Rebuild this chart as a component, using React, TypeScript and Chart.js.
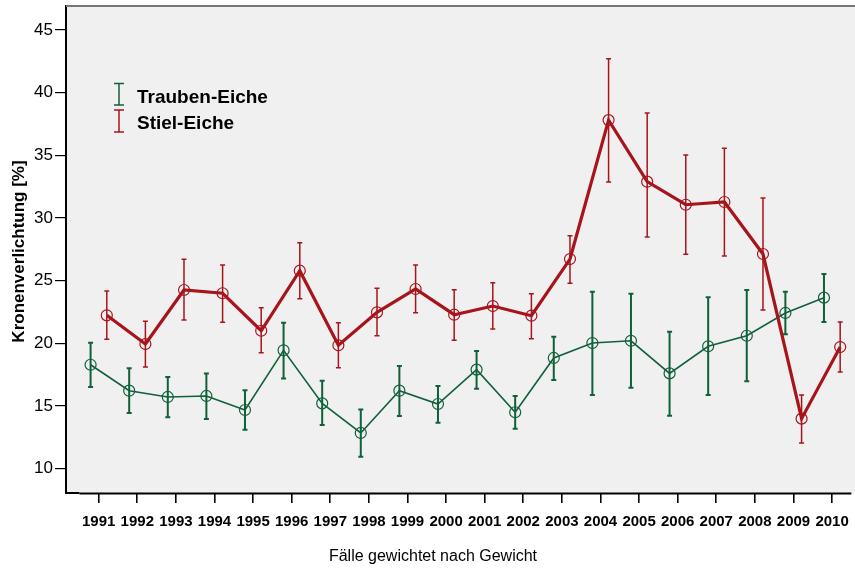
import React, { useEffect, useRef } from "react";
import { Chart, registerables } from "chart.js";

Chart.register(...registerables);

const years = [1991, 1992, 1993, 1994, 1995, 1996, 1997, 1998, 1999, 2000, 2001, 2002, 2003, 2004, 2005, 2006, 2007, 2008, 2009, 2010];

const traubenMean = [18.29, 16.22, 15.72, 15.8, 14.68, 19.44, 15.21, 12.85, 16.22, 15.16, 17.9, 14.5, 18.83, 20.02, 20.2, 17.6, 19.76, 20.6, 22.42, 23.64];
const traubenHigh = [20.05, 18.0, 17.31, 17.6, 16.25, 21.64, 17.02, 14.71, 18.19, 16.6, 19.38, 15.8, 20.53, 24.11, 23.96, 20.93, 23.67, 24.25, 24.11, 25.53];
const traubenLow = [16.51, 14.44, 14.1, 13.96, 13.11, 17.2, 13.48, 10.96, 14.2, 13.67, 16.38, 13.19, 17.07, 15.88, 16.46, 14.23, 15.88, 16.97, 20.72, 21.7];

const stielMean = [22.23, 19.94, 24.25, 23.99, 21.0, 25.79, 19.84, 22.47, 24.33, 22.28, 22.97, 22.2, 26.72, 37.8, 32.89, 31.05, 31.27, 27.12, 13.99, 19.7];
const stielHigh = [24.17, 21.75, 26.7, 26.24, 22.84, 28.02, 21.64, 24.38, 26.24, 24.27, 24.83, 23.96, 28.58, 42.7, 38.36, 35.02, 35.55, 31.59, 15.88, 21.7];
const stielLow = [20.32, 18.11, 21.86, 21.67, 19.25, 23.56, 18.05, 20.6, 22.44, 20.24, 21.14, 20.37, 24.78, 32.86, 28.48, 27.1, 26.96, 22.66, 12.05, 17.71];

const yTicks = [10, 15, 20, 25, 30, 35, 40, 45];

const seriesNames = ["Trauben-Eiche", "Stiel-Eiche"];
const yTitle = "Kronenverlichtung [%]";
const footer = "Fälle gewichtet nach Gewicht";

const GREEN = "#10603a";
const RED = "#a8141c";
const OFFSET = 0.21;
const FONT = "'Liberation Sans', Arial, sans-serif";

export default function App() {
  const ref = useRef<HTMLCanvasElement | null>(null);

  useEffect(() => {
    if (!ref.current) return;

    const series = [
      { mean: traubenMean, low: traubenLow, high: traubenHigh, color: GREEN, off: -OFFSET, bw: 2 },
      { mean: stielMean, low: stielLow, high: stielHigh, color: RED, off: OFFSET, bw: 1.5 },
    ];

    const deco = {
      id: "deco",
      beforeDraw(chart: any) {
        const { ctx, chartArea } = chart;
        ctx.save();
        ctx.fillStyle = "#f0f0f0";
        ctx.fillRect(chartArea.left, chartArea.top, chartArea.right - chartArea.left, chartArea.bottom - chartArea.top);
        ctx.restore();
      },
      afterDatasetsDraw(chart: any) {
        const { ctx } = chart;
        const xs = chart.scales.x;
        const ys = chart.scales.y;
        ctx.save();
        series.forEach((s) => {
          ctx.strokeStyle = s.color;
          ctx.lineWidth = s.bw;
          years.forEach((yr, i) => {
            const x = xs.getPixelForValue(yr + s.off);
            const y1 = ys.getPixelForValue(s.high[i]);
            const y2 = ys.getPixelForValue(s.low[i]);
            ctx.beginPath();
            ctx.moveTo(x, y1);
            ctx.lineTo(x, y2);
            ctx.moveTo(x - 2.5, y1);
            ctx.lineTo(x + 2.5, y1);
            ctx.moveTo(x - 2.5, y2);
            ctx.lineTo(x + 2.5, y2);
            ctx.stroke();
          });
        });
        ctx.restore();
      },
      afterDraw(chart: any) {
        const { ctx, chartArea } = chart;
        const xs = chart.scales.x;
        ctx.save();
        // top frame
        ctx.strokeStyle = "#777777";
        ctx.lineWidth = 2;
        ctx.beginPath();
        ctx.moveTo(chartArea.left, chartArea.top);
        ctx.lineTo(chartArea.right, chartArea.top);
        ctx.stroke();
        // bottom frame and axis line
        ctx.strokeStyle = "#000000";
        ctx.lineWidth = 2;
        ctx.beginPath();
        ctx.moveTo(chartArea.left - 1, chartArea.bottom);
        ctx.lineTo(xs.getPixelForValue(years[0] - 0.5), chartArea.bottom);
        ctx.stroke();
        ctx.beginPath();
        ctx.moveTo(xs.getPixelForValue(years[0] - 0.5), chartArea.bottom + 0.5);
        ctx.lineTo(xs.getPixelForValue(years[years.length - 1] + 0.5), chartArea.bottom + 0.5);
        ctx.stroke();

        // y title
        ctx.fillStyle = "#000";
        ctx.font = `bold 17px ${FONT}`;
        ctx.textAlign = "center";
        ctx.textBaseline = "middle";
        ctx.translate(19.5, 251.5);
        ctx.rotate(-Math.PI / 2);
        ctx.fillText(yTitle, 0, 0);
        ctx.restore();

        ctx.save();
        // footer
        ctx.fillStyle = "#000";
        ctx.font = `16px ${FONT}`;
        ctx.textAlign = "center";
        ctx.textBaseline = "middle";
        ctx.fillText(footer, 433, 557);

        // legend
        const leg = [
          { name: seriesNames[0], color: GREEN, top: 83.5, bottom: 105, ty: 98 },
          { name: seriesNames[1], color: RED, top: 110, bottom: 132, ty: 124 },
        ];
        leg.forEach((l) => {
          ctx.strokeStyle = l.color;
          ctx.lineWidth = 1.5;
          ctx.beginPath();
          ctx.moveTo(119, l.top);
          ctx.lineTo(119, l.bottom);
          ctx.moveTo(114, l.top);
          ctx.lineTo(124, l.top);
          ctx.moveTo(114, l.bottom);
          ctx.lineTo(124, l.bottom);
          ctx.stroke();
          ctx.fillStyle = "#000";
          ctx.font = `bold 19px ${FONT}`;
          ctx.textAlign = "left";
          ctx.textBaseline = "middle";
          ctx.fillText(l.name, 137, l.ty);
        });
        ctx.restore();
      },
    };

    const chart = new Chart(ref.current, {
      type: "scatter",
      data: {
        datasets: [
          {
            label: seriesNames[0],
            data: years.map((yr, i) => ({ x: yr - OFFSET, y: traubenMean[i] })),
            showLine: true,
            borderColor: GREEN,
            borderWidth: 1.6,
            pointRadius: 5.5,
            pointBorderWidth: 1.2,
            pointBorderColor: GREEN,
            pointBackgroundColor: "rgba(0,0,0,0)",
            order: 2,
          },
          {
            label: seriesNames[1],
            data: years.map((yr, i) => ({ x: yr + OFFSET, y: stielMean[i] })),
            showLine: true,
            borderColor: RED,
            borderWidth: 3.2,
            pointRadius: 5.5,
            pointBorderWidth: 1.2,
            pointBorderColor: RED,
            pointBackgroundColor: "rgba(0,0,0,0)",
            order: 1,
          },
        ],
      },
      options: {
        animation: false,
        responsive: false,
        layout: { autoPadding: false, padding: { top: 6, left: 0, right: 0, bottom: 0 } },
        plugins: {
          legend: { display: false },
          tooltip: { enabled: false },
          title: { display: false },
        },
        scales: {
          x: {
            type: "linear",
            min: 1990.153,
            max: 2010.594,
            afterBuildTicks: (scale: any) => {
              scale.ticks = years.map((v) => ({ value: v }));
            },
            afterFit: (scale: any) => {
              scale.height = 76;
              scale.paddingLeft = 0;
              scale.paddingRight = 0;
              scale.paddingTop = 0;
              scale.paddingBottom = 0;
            },
            border: { display: false },
            grid: {
              drawOnChartArea: false,
              drawTicks: true,
              tickLength: 10,
              color: "#000",
              lineWidth: 1.6,
            },
            ticks: {
              autoSkip: false,
              maxRotation: 0,
              minRotation: 0,
              padding: 10,
              color: "#000",
              font: { family: FONT, size: 15, weight: "bold" },
              callback: (v: any) => String(v),
            },
          },
          y: {
            type: "linear",
            min: 8.06,
            max: 46.9,
            afterBuildTicks: (scale: any) => {
              scale.ticks = yTicks.map((v) => ({ value: v }));
            },
            afterFit: (scale: any) => {
              scale.width = 66;
              scale.paddingLeft = 0;
              scale.paddingRight = 0;
              scale.paddingTop = 0;
              scale.paddingBottom = 0;
            },
            border: { display: true, color: "#000", width: 2 },
            grid: {
              drawOnChartArea: false,
              drawTicks: true,
              tickLength: 11,
              color: "#000",
              lineWidth: 1.2,
            },
            ticks: {
              padding: 2,
              color: "#000",
              font: { family: FONT, size: 17 },
              callback: (v: any) => String(v),
            },
          },
        },
      },
      plugins: [deco],
    } as any);

    return () => chart.destroy();
  }, []);

  return (
    <div style={{ position: "absolute", left: 0, top: 0, width: 855, height: 569, background: "#fff" }}>
      <canvas ref={ref} width={855} height={569} style={{ display: "block", width: 855, height: 569 }} />
    </div>
  );
}
